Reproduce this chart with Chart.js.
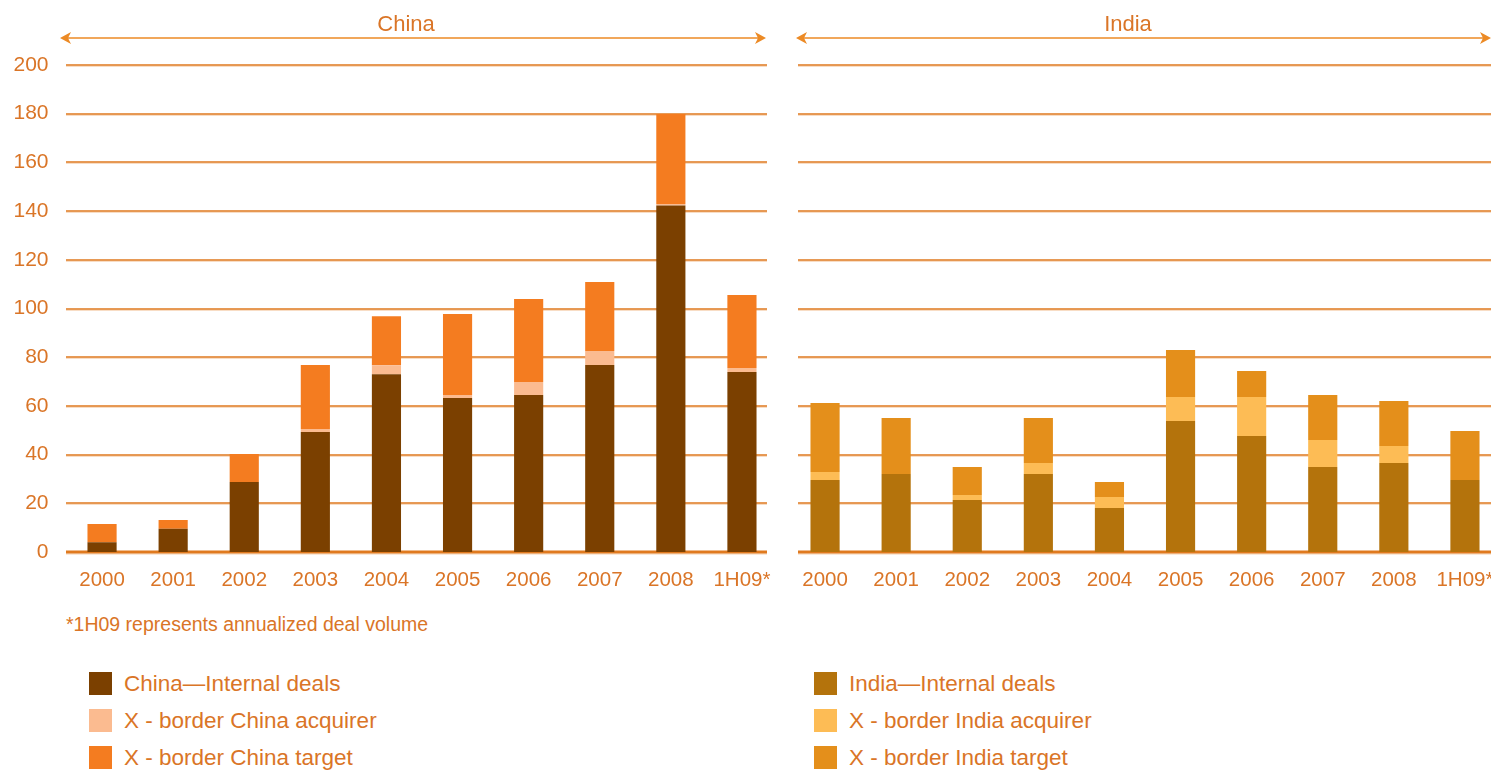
<!DOCTYPE html>
<html lang="en">
<head>
    <meta charset="UTF-8">
    <title>China and India deal volume</title>
    <style>
        body {
            margin: 0;
            width: 1491px;
            height: 770px;
            overflow: hidden;
            background: #fff;
            font-family: "Liberation Sans", Arial, sans-serif;
            color: #DA7527;
            position: relative;
        }

        .chart-box {
            position: absolute;
            top: 0;
            width: 790px;
            height: 600px;
        }

        #china-box { left: 0; }
        #india-box { left: 780px; }

        .note {
            position: absolute;
            left: 66px;
            top: 613px;
            font-size: 19.5px;
        }

        .legend {
            position: absolute;
            top: 665px;
            font-size: 22.5px;
        }

        .legend div {
            height: 37px;
            display: flex;
            align-items: center;
        }

        .legend span {
            display: inline-block;
            width: 23px;
            height: 23px;
            margin-right: 12px;
        }
    </style>
</head>
<body>
    <div class="chart-box" id="china-box"><canvas id="china-chart"></canvas></div>
    <div class="chart-box" id="india-box"><canvas id="india-chart"></canvas></div>

    <div class="note">*1H09 represents annualized deal volume</div>

    <div class="legend" id="china-legend" style="left: 89px;"></div>
    <div class="legend" id="india-legend" style="left: 814px;"></div>

    <script src="https://cdn.jsdelivr.net/npm/chart.js"></script>
    <script>
        const years = ['2000', '2001', '2002', '2003', '2004', '2005', '2006', '2007', '2008', '1H09*'];
        const yTicks = [0, 20, 40, 60, 80, 100, 120, 140, 160, 180, 200];

        // China (deal counts)
        const chinaInternal = [4, 9.5, 28.7, 49.3, 73, 63.2, 64.5, 76.8, 142.3, 73.9];
        const chinaAcquirer = [0, 0, 0, 1.2, 3.7, 1.3, 5.3, 5.7, 0.6, 1.7];
        const chinaTarget   = [7.5, 3.6, 11.5, 26.3, 20.1, 33.2, 34.1, 28.4, 37, 29.9];

        // India (deal counts)
        const indiaInternal = [29.6, 32, 21.4, 32, 18.1, 53.8, 47.6, 34.9, 36.6, 29.6];
        const indiaAcquirer = [3.3, 0, 2, 4.6, 4.5, 9.9, 16.1, 11.1, 6.9, 0];
        const indiaTarget   = [28.3, 23, 11.5, 18.4, 6.1, 19.3, 10.6, 18.5, 18.5, 20.1];

        const chinaNames = ['China\u2014Internal deals', 'X - border China acquirer', 'X - border China target'];
        const indiaNames = ['India\u2014Internal deals', 'X - border India acquirer', 'X - border India target'];
        const chinaColors = ['#7B4000', '#FBBB90', '#F47C20'];
        const indiaColors = ['#B4730C', '#FDBC55', '#E48F1B'];

        const textColor = '#DA7527';
        const lineColor = '#E07A1F';
        const fontFamily = '"Liberation Sans", Arial, sans-serif';

        // horizontal rules, arrow and panel title
        const decorPlugin = {
            id: 'decor',
            beforeDatasetsDraw(chart, args, opts) {
                const ctx = chart.ctx;
                const y = chart.scales.y;
                ctx.save();
                yTicks.forEach(v => {
                    const py = Math.round(y.getPixelForValue(v));
                    const w = v === 0 ? 3 : 1.5;
                    ctx.fillStyle = '#F6D2B2';
                    ctx.fillRect(opts.lineFrom, py - w / 2 + w, opts.lineTo - opts.lineFrom, 1);
                    ctx.fillStyle = lineColor;
                    ctx.fillRect(opts.lineFrom, py - w / 2, opts.lineTo - opts.lineFrom, w);
                });
                ctx.restore();
            },
            afterDraw(chart, args, opts) {
                const ctx = chart.ctx;
                const ay = 38;
                ctx.save();
                ctx.strokeStyle = '#EC8A25';
                ctx.fillStyle = '#EC8A25';
                ctx.lineWidth = 1.5;
                ctx.beginPath();
                ctx.moveTo(opts.arrowFrom + 6, ay);
                ctx.lineTo(opts.arrowTo - 6, ay);
                ctx.stroke();
                [[opts.arrowFrom, 1], [opts.arrowTo, -1]].forEach(([x, d]) => {
                    ctx.beginPath();
                    ctx.moveTo(x, ay);
                    ctx.lineTo(x + d * 11, ay - 6);
                    ctx.lineTo(x + d * 8, ay);
                    ctx.lineTo(x + d * 11, ay + 6);
                    ctx.closePath();
                    ctx.fill();
                });
                ctx.fillStyle = textColor;
                ctx.font = '22px ' + fontFamily;
                ctx.textAlign = 'center';
                ctx.textBaseline = 'middle';
                ctx.fillText(opts.title, opts.titleX, 25);
                ctx.restore();
            }
        };

        function makeChart(id, names, colors, series, leftWidth, showY, decor) {
            return new Chart(document.getElementById(id), {
                type: 'bar',
                data: {
                    labels: years,
                    datasets: series.map((data, i) => ({
                        label: names[i],
                        data: data,
                        backgroundColor: colors[i],
                        barPercentage: 0.41,
                        categoryPercentage: 1
                    }))
                },
                options: {
                    responsive: true,
                    maintainAspectRatio: false,
                    animation: false,
                    layout: { padding: { top: 65, left: 0, right: 790 - leftWidth - 711, bottom: 0 } },
                    plugins: {
                        legend: { display: false },
                        tooltip: { enabled: false },
                        decor: decor
                    },
                    scales: {
                        x: {
                            stacked: true,
                            grid: { display: false },
                            border: { display: false },
                            ticks: {
                                color: textColor,
                                font: { size: 20.5, family: fontFamily },
                                padding: 8,
                                maxRotation: 0,
                                autoSkip: false
                            },
                            afterFit(scale) { scale.height = 48; }
                        },
                        y: {
                            stacked: true,
                            min: 0,
                            max: 200,
                            grid: { display: false },
                            border: { display: false },
                            ticks: {
                                display: showY,
                                stepSize: 20,
                                color: textColor,
                                font: { size: 21, family: fontFamily },
                                padding: 10
                            },
                            afterFit(scale) { scale.width = leftWidth; }
                        }
                    }
                },
                plugins: [decorPlugin]
            });
        }

        makeChart('china-chart', chinaNames, chinaColors,
            [chinaInternal, chinaAcquirer, chinaTarget], 66.5, true,
            { lineFrom: 66, lineTo: 767, arrowFrom: 60, arrowTo: 766, title: 'China', titleX: 406 });

        makeChart('india-chart', indiaNames, indiaColors,
            [indiaInternal, indiaAcquirer, indiaTarget], 9.5, false,
            { lineFrom: 18, lineTo: 711, arrowFrom: 16, arrowTo: 711, title: 'India', titleX: 348 });

        function buildLegend(elId, names, colors) {
            const el = document.getElementById(elId);
            names.forEach((n, i) => {
                const row = document.createElement('div');
                row.innerHTML = `<span style="background:${colors[i]}"></span>${n}`;
                el.appendChild(row);
            });
        }

        buildLegend('china-legend', chinaNames, chinaColors);
        buildLegend('india-legend', indiaNames, indiaColors);
    </script>
</body>
</html>
